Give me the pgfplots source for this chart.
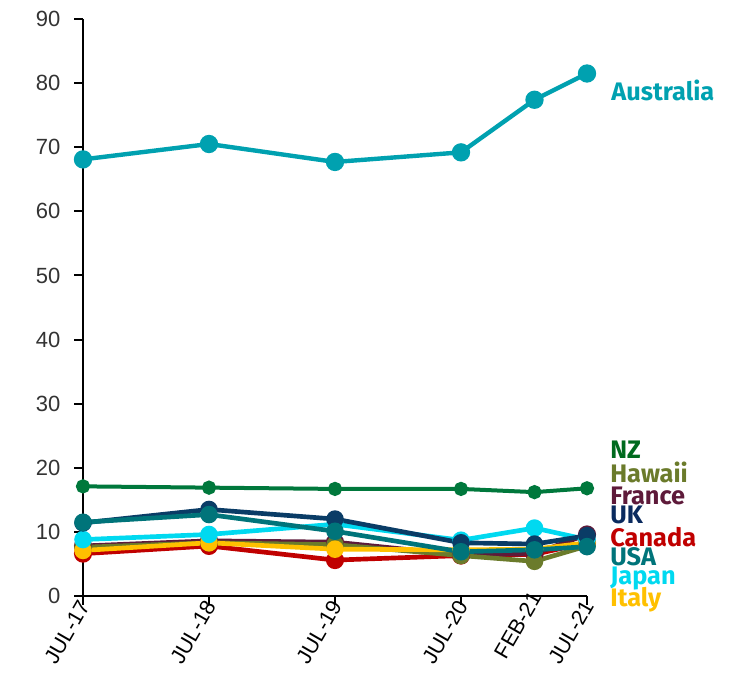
\documentclass[border=0pt]{standalone}
\usepackage{pgfplots}
\pgfplotsset{compat=1.18}
\usepackage{fontspec}
\setmainfont{Liberation Sans}
\newfontfamily\lblfont{Fira Sans}

\definecolor{cAus}{HTML}{00A1B0}
\definecolor{cNZ}{HTML}{00783C}
\definecolor{cNZt}{HTML}{006A1E}
\definecolor{cHaw}{HTML}{6B7B2B}
\definecolor{cFra}{HTML}{5E1A3A}
\definecolor{cUK}{HTML}{0A3C66}
\definecolor{cUKt}{HTML}{0A2A5E}
\definecolor{cCan}{HTML}{C00000}
\definecolor{cUSA}{HTML}{00747A}
\definecolor{cJap}{HTML}{00D9F0}
\definecolor{cIta}{HTML}{FFC000}
\definecolor{tickgrey}{HTML}{333333}

\begin{document}
\begin{tikzpicture}
\begin{axis}[
  name=ax,
  scale only axis,
  width=378pt, height=432.75pt,
  xmin=0, xmax=48, ymin=0, ymax=90,
  axis lines=left,
  axis line style={-, line width=1.5pt, black},
  tick align=outside,
  major tick length=6.5pt,
  tick style={line width=1.5pt, black},
  xtick={0,12,24,36,48},
  xticklabels={JUL-17,JUL-18,JUL-19,JUL-20,JUL-21},
  extra x ticks={43},
  extra x tick labels={FEB-21},
  extra x tick style={major tick length=0pt},
  ytick={0,10,...,90},
  /pgf/number format/assume math mode=true,
  xticklabel style={rotate=60, anchor=east, font=\fontsize{16}{16}\selectfont, text=black, inner sep=1pt, xshift=3pt},
  yticklabel style={font=\fontsize{16.5}{16.5}\selectfont, text=tickgrey, xshift=-7pt},
  clip=false,
  every axis plot/.append style={line width=3.5pt, mark=*, mark size=4.8pt},
]
% Australia
\addplot[color=cAus, line width=3.3pt, mark size=5.2pt] coordinates {(0,68.1) (12,70.5) (24,67.7) (36,69.2) (43,77.4) (48,81.5)};
% New Zealand
\addplot[color=cNZ, line width=3pt, mark size=3.8pt] coordinates {(0,17.1) (12,16.9) (24,16.7) (36,16.7) (43,16.2) (48,16.8)};
% Canada
\addplot[color=cCan, mark size=5pt] coordinates {(0,6.6) (12,7.8) (24,5.6) (36,6.3) (43,6.5) (48,8.3)};
% France
\addplot[color=cFra, mark size=5pt] coordinates {(0,7.8) (12,8.6) (24,8.4) (36,6.4) (43,6.6) (48,9.6)};
% Hawaii
\addplot[color=cHaw] coordinates {(0,7.6) (12,8.3) (24,8.0) (36,6.3) (43,5.4) (48,7.8)};
% Italy
\addplot[color=cIta] coordinates {(0,7.1) (12,8.3) (24,7.3) (36,7.2) (43,7.3) (48,8.3)};
% Japan
\addplot[color=cJap] coordinates {(0,8.8) (12,9.6) (24,11.2) (36,8.7) (43,10.6) (48,8.8)};
% UK
\addplot[color=cUK] coordinates {(0,11.4) (12,13.5) (24,12.0) (36,8.3) (43,8.1) (48,9.4)};
% USA
\addplot[color=cUSA] coordinates {(0,11.5) (12,12.7) (24,10.1) (36,6.9) (43,7.2) (48,7.7)};

% series names at the right-hand end
\begin{scope}[every node/.style={anchor=west, inner sep=0pt, font=\lblfont\bfseries\fontsize{19}{19}\selectfont}]
\node[text=cAus] at (axis cs:50.3,78.9) {Australia};
\node[text=cNZt] at (axis cs:50.2,22.8) {NZ};
\node[text=cHaw] at (axis cs:50.2,19.3) {Hawaii};
\node[text=cFra] at (axis cs:50.2,15.6) {France};
\node[text=cUKt] at (axis cs:50.2,12.6) {UK};
\node[text=cCan] at (axis cs:50.2,9.2) {Canada};
\node[text=cUSA] at (axis cs:50.2,6.1) {USA};
\node[text=cJap] at (axis cs:50.2,2.8) {Japan};
\node[text=cIta] at (axis cs:50.2,-0.6) {Italy};
\end{scope}
\end{axis}
\pgfresetboundingbox
\path[use as bounding box] ([xshift=-62.25pt,yshift=-63pt]ax.south west) rectangle ([xshift=117.75pt,yshift=14.25pt]ax.north east);
\end{tikzpicture}
\end{document}
